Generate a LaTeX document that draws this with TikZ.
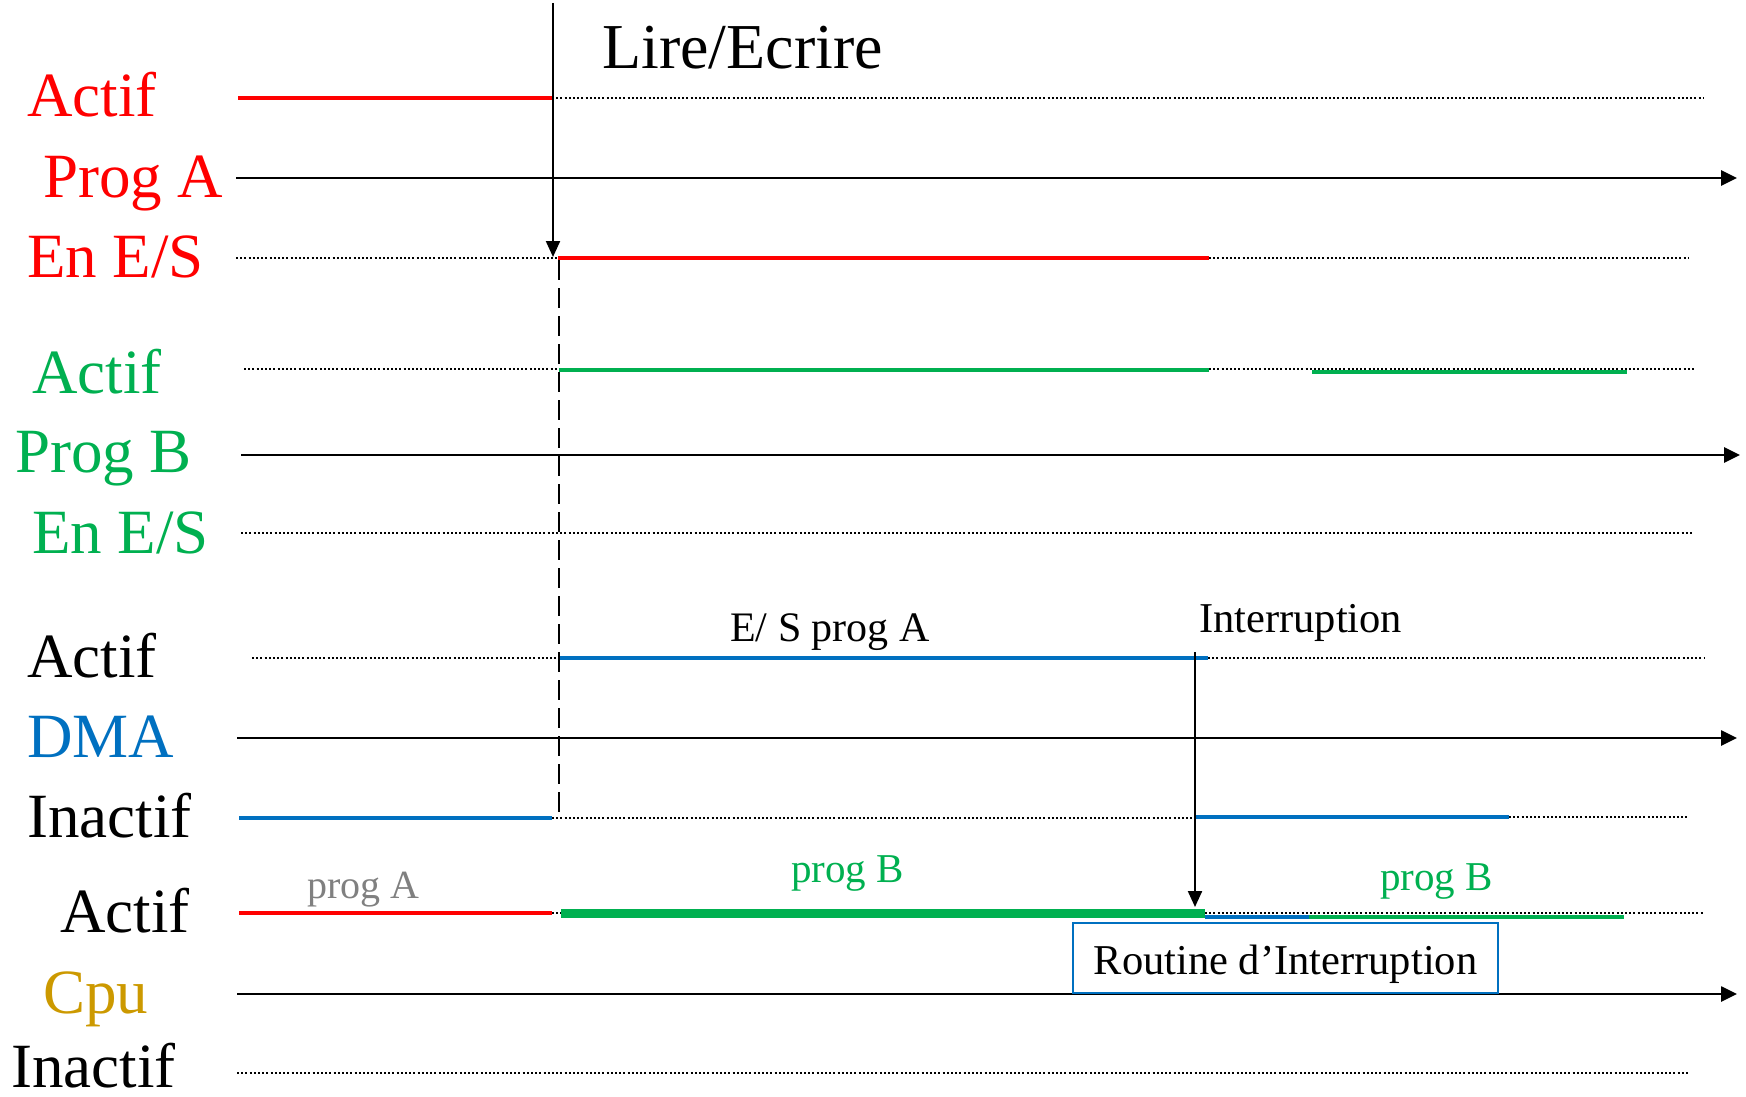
\documentclass[tikz,border=0pt]{standalone}
\usepackage{fontspec}
\setmainfont{Liberation Serif}
\usetikzlibrary{arrows.meta}

\definecolor{pred}{HTML}{FF0000}
\definecolor{pgreen}{HTML}{00B050}
\definecolor{pblue}{HTML}{0070C0}
\definecolor{pgold}{HTML}{CC9900}
\definecolor{pgray}{HTML}{808080}

\tikzset{
  big/.style={anchor=base west, inner sep=0pt, text depth=0pt, font=\fontsize{63}{70}\selectfont},
  small/.style={anchor=base west, inner sep=0pt, text depth=0pt, font=\fontsize{42}{47}\selectfont},
  axis/.style={line width=2.6pt, -{Triangle[length=16pt,width=15pt]}},
  level/.style={line width=2.4pt, dash pattern=on 2pt off 2.2pt},
  busy/.style={line width=4.8pt},
  marker/.style={line width=2.2pt, -{Triangle[length=16pt,width=14pt]}},
  guide/.style={line width=2.4pt, dash pattern=on 20pt off 8pt},
}

\begin{document}
\begin{tikzpicture}[x=1pt, y=-1pt]
\useasboundingbox (0,0) rectangle (1746,1097);

% ---------- Prog A ----------
\node[big, text=pred] (aact) at (27,117) {Actif};
\node[big, text=pred] (aprog) at (43,197) {Prog A};
\node[big, text=pred] (aes) at (27,277) {En E/S};

\draw[busy, pred] (238,98) -- (552,98);
\draw[level] (552,98) -- (1704,98);
\draw[axis] (236,178) -- (1737,178);
\draw[level] (236,258) -- (558,258);
\draw[busy, pred] (558,258) -- (1209,258);
\draw[level] (1209,258) -- (1688,258);

% ---------- Prog B ----------
\node[big, text=pgreen] (bact) at (32,393) {Actif};
\node[big, text=pgreen] (bprog) at (15,472) {Prog B};
\node[big, text=pgreen] (bes) at (32,553) {En E/S};

\draw[level] (244,369) -- (559,369);
\draw[busy, pgreen] (559,370) -- (1209,370);
\draw[level] (1209,369) -- (1696,369);
\draw[busy, pgreen] (1312,372) -- (1627,372);
\draw[axis] (241,455) -- (1740,455);
\draw[level] (241,533) -- (1692,533);

% ---------- DMA ----------
\node[big] (dact) at (27,677) {Actif};
\node[big, text=pblue] (dma) at (27,757) {DMA};
\node[big] (dinact) at (27,837) {Inactif};

\draw[level] (252,658) -- (560,658);
\draw[busy, pblue] (560,658) -- (1208,658);
\draw[level] (1208,658) -- (1704,658);
\draw[axis] (237,738) -- (1737,738);
\draw[busy, pblue] (239,818) -- (552,818);
\draw[level] (552,818) -- (1195,818);
\draw[busy, pblue] (1195,817) -- (1509,817);
\draw[level] (1509,817) -- (1687,817);

\node[small] (esa) at (730,641) {E/ S prog A};
\node[small, font=\fontsize{42.5}{47}\selectfont] (intr) at (1199,632) {Interruption};

% ---------- Cpu ----------
\node[big] (cact) at (60,932) {Actif};
\node[big, text=pgold] (cpu) at (43,1013) {Cpu};
\node[big] (cinact) at (11,1087) {Inactif};

\draw[busy, pred] (239,913) -- (552,913);
\draw[level] (552,913) -- (561,913);
\draw[level] (1205,913) -- (1704,913);
\draw[line width=9pt, pgreen] (561,913) -- (1205,913);
\draw[busy, pblue] (1205,917) -- (1309,917);
\draw[busy, pgreen] (1309,917) -- (1624,917);
\draw[axis] (237,994) -- (1737,994);
\draw[level] (237,1073) -- (1688,1073);

\node[small, text=pgray, font=\fontsize{40}{45}\selectfont] (pa) at (307,898) {prog A};
\node[small, text=pgreen, font=\fontsize{41}{46}\selectfont] (pb1) at (791,882) {prog B};
\node[small, text=pgreen, font=\fontsize{41}{46}\selectfont] (pb2) at (1380,890) {prog B};

\node[draw=pblue, line width=2pt, fill=white, minimum width=425pt, minimum height=70pt,
      inner sep=0pt, text height=32pt, text depth=0pt,
      font=\fontsize{42.5}{48}\selectfont] (routine) at (1285.5,958)
      {Routine d’Interruption};

% ---------- Events ----------
\node[big, font=\fontsize{64}{70}\selectfont] (rw) at (602,69) {Lire/Ecrire};
\coordinate (rwtop) at (553,3);
\coordinate (rwend) at (553,257);
\draw[marker] (rwtop) -- (rwend);

\coordinate (gtop) at (559,260);
\coordinate (gbot) at (559,815);
\draw[guide] (gtop) -- (gbot);

\coordinate (itop) at (1195,652);
\coordinate (iend) at (1195,907);
\draw[marker] (itop) -- (iend);
\end{tikzpicture}
\end{document}
